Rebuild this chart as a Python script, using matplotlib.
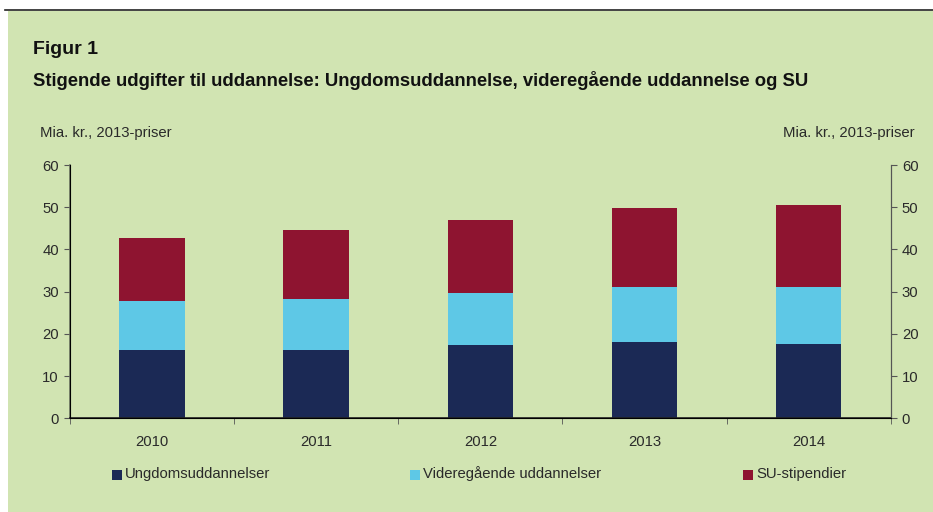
import numpy as np
import matplotlib
matplotlib.use("Agg")
import matplotlib.pyplot as plt
from matplotlib.patches import Rectangle
from matplotlib.lines import Line2D

# Data (Mia. kr., 2013-priser)
years = ["2010", "2011", "2012", "2013", "2014"]
ungdom = [16.2, 16.2, 17.4, 18.1, 17.6]
videregaaende = [11.6, 12.1, 12.3, 13.0, 13.5]
su = [14.9, 16.3, 17.3, 18.7, 19.4]

labels = ["Ungdomsuddannelser", "Videregående uddannelser", "SU-stipendier"]
colors = ["#1b2955", "#5ec8e6", "#8e1430"]
bg = "#d1e4b2"

plt.rcParams['font.family'] = ['Liberation Sans', 'DejaVu Sans']

fig = plt.figure(figsize=(9.33, 5.12), dpi=100)
fig.patch.set_facecolor("white")

# green panel and black rule at top
fig.patches.append(Rectangle((8 / 933, 0), 1, 1 - 11 / 512, transform=fig.transFigure,
                             facecolor=bg, edgecolor="none", zorder=-10))
fig.lines.append(Line2D([5 / 933, 1], [1 - 10 / 512, 1 - 10 / 512], transform=fig.transFigure,
                        color="#222222", linewidth=1.2, zorder=-5))

ax = fig.add_axes([0.075, 0.183, 0.8797, 0.4947])
ax.set_facecolor(bg)

x = np.arange(len(years))
w = 0.4
b1 = np.array(ungdom)
b2 = b1 + np.array(videregaaende)
ax.bar(x, ungdom, w, color=colors[0], label=labels[0])
ax.bar(x, videregaaende, w, bottom=b1, color=colors[1], label=labels[1])
ax.bar(x, su, w, bottom=b2, color=colors[2], label=labels[2])

ax.set_xlim(-0.5, len(years) - 0.5)
ax.set_ylim(0, 60)
ax.set_yticks(range(0, 61, 10))
ax.set_xticks(x)
ax.set_xticklabels(years, fontsize=10.7, color="#2a2a2a")
ax.set_xticks(np.arange(-0.5, len(years), 1), minor=True)
ax.tick_params(axis="x", which="major", length=0, pad=12)
ax.tick_params(axis="x", which="minor", length=4, direction="out", color="#555555")
ax.tick_params(axis="y", length=4, direction="out", labelsize=10.7, color="#555555",
               labelcolor="#2a2a2a", pad=4)

ax.spines["top"].set_visible(False)
ax.spines["left"].set_color("#6b7560")
ax.spines["left"].set_linewidth(1.2)
ax.spines["right"].set_color("#555555")
ax.spines["bottom"].set_color("#222222")
ax.spines["bottom"].set_linewidth(1.2)

ax2 = ax.twinx()
ax2.set_ylim(0, 60)
ax2.set_yticks(range(0, 61, 10))
ax2.tick_params(axis="y", length=4, direction="out", labelsize=10.7, color="#555555",
                labelcolor="#2a2a2a", pad=4)
ax2.spines["top"].set_visible(False)
ax2.spines["right"].set_color("#555555")

fig.text(33 / 933, 1 - 50 / 512, "Figur 1", fontsize=14, fontweight="bold",
         va="center", color="#111111")
fig.text(33 / 933, 1 - 81 / 512,
         "Stigende udgifter til uddannelse: Ungdomsuddannelse, videregående uddannelse og SU",
         fontsize=13.3, fontweight="bold", va="center", color="#111111")
fig.text(40 / 933, 1 - 133 / 512, "Mia. kr., 2013-priser", fontsize=10.7, va="center",
         color="#2a2a2a")
fig.text(915 / 933, 1 - 133 / 512, "Mia. kr., 2013-priser", fontsize=10.7, va="center",
         ha="right", color="#2a2a2a")

# legend entries spread across the bottom
leg_x = [112, 410, 743]
for lx, lab, c in zip(leg_x, labels, colors):
    fig.patches.append(Rectangle((lx / 933, 1 - 480 / 512), 10 / 933, 10 / 512,
                                 transform=fig.transFigure, facecolor=c, edgecolor="none",
                                 zorder=5))
    fig.text((lx + 13) / 933, 1 - 474 / 512, lab, fontsize=10.7, va="center",
             color="#2a2a2a")

fig.savefig("out.png", dpi=100, facecolor=fig.get_facecolor())
